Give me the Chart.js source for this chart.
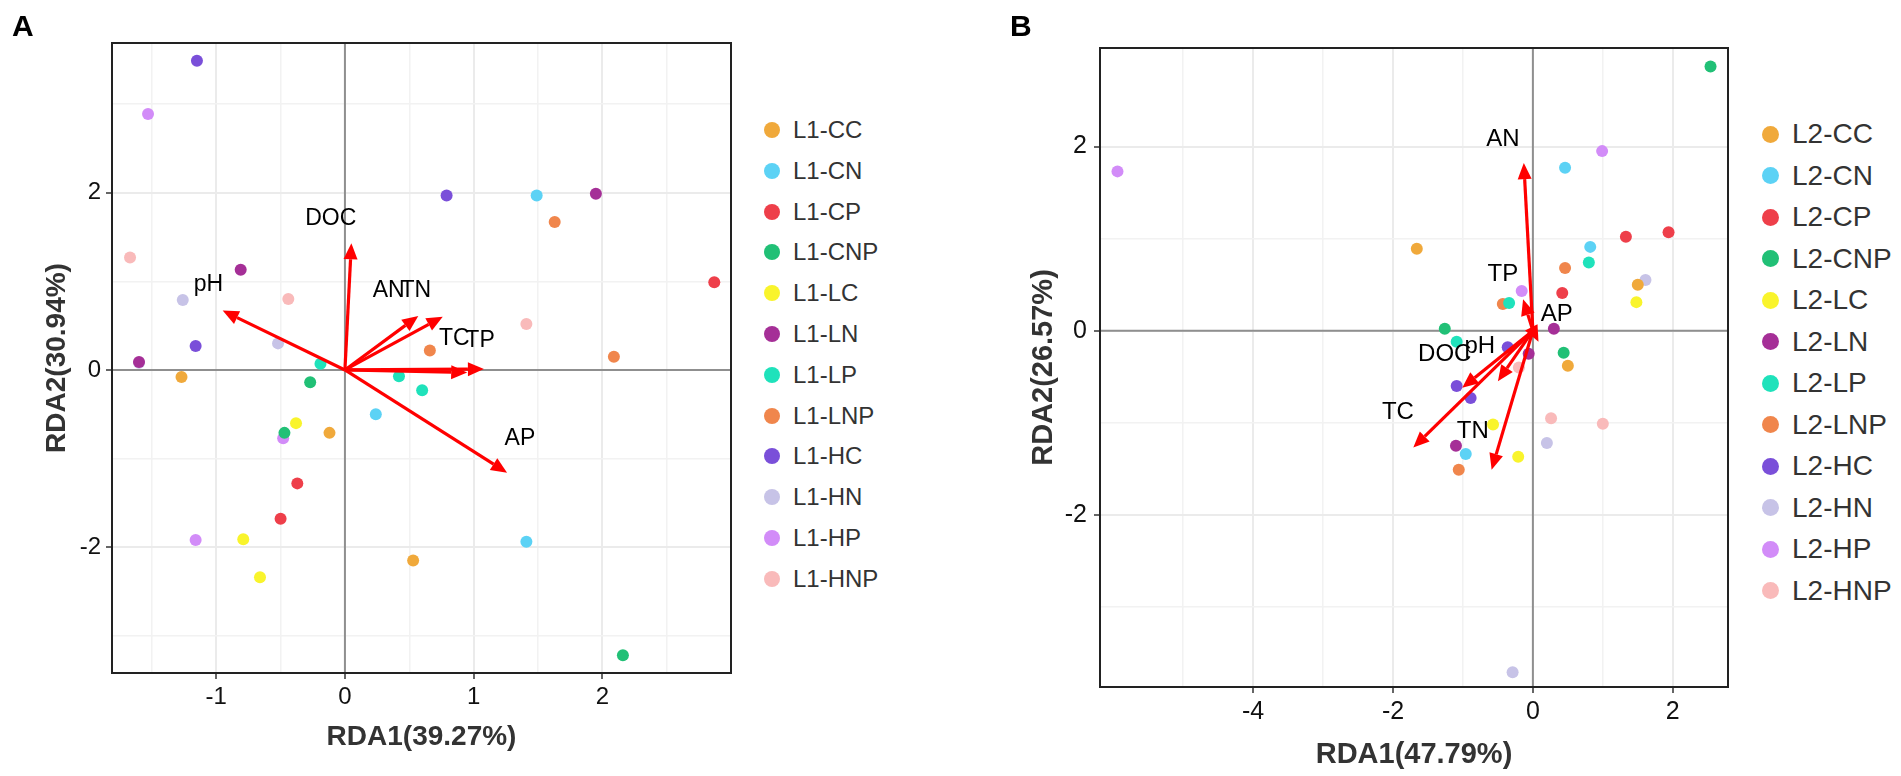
<!DOCTYPE html>
<html>
<head>
<meta charset="utf-8">
<title>RDA biplots</title>
<script src="https://cdn.jsdelivr.net/npm/chart.js@4.4.1/dist/chart.umd.min.js"></script>
<style>
  body { margin: 0; background: #fff; font-family: "Liberation Sans", Arial, sans-serif; }
  #page { position: relative; width: 1901px; height: 776px; overflow: hidden; }
  canvas { position: absolute; top: 0; }
  .tag { position: absolute; top: 11px; font-size: 30px; font-weight: bold; line-height: 30px; color: #000; }
  .leg { position: absolute; top: 0; color: #333; }
  .leg div { position: absolute; left: 0; height: 40px; display: flex; align-items: center; white-space: nowrap; }
  .leg span { display: inline-block; border-radius: 50%; flex: none; }
</style>
</head>
<body>
<div id="page">
  <canvas id="rdaA" width="745" height="776" style="left:0"></canvas>
  <canvas id="rdaB" width="750" height="776" style="left:990px"></canvas>
  <div class="tag" style="left:12px">A</div>
  <div class="tag" style="left:1010px">B</div>
  <div id="legA" class="leg"></div>
  <div id="legB" class="leg"></div>
</div>
<script>
const fam = '"Liberation Sans", Arial, sans-serif';

const groupsA = ['L1-CC', 'L1-CN', 'L1-CP', 'L1-CNP', 'L1-LC', 'L1-LN', 'L1-LP', 'L1-LNP', 'L1-HC', 'L1-HN', 'L1-HP', 'L1-HNP'];
const groupsB = ['L2-CC', 'L2-CN', 'L2-CP', 'L2-CNP', 'L2-LC', 'L2-LN', 'L2-LP', 'L2-LNP', 'L2-HC', 'L2-HN', 'L2-HP', 'L2-HNP'];
const colors = ['#F0A93B', '#5CD2F5', '#EE3F4A', '#21C076', '#F9F42C', '#A52F97',
                '#1FE2BB', '#F0864C', '#7A4FD9', '#C7C3E7', '#D28CF8', '#F9BABA'];

// panel A sample scores, one row per group (3 replicates)
const rda1A = [
  [-1.27, -0.12, 0.53], [0.24, 1.49, 1.41], [-0.37, -0.50, 2.87], [-0.27, -0.47, 2.16],
  [-0.38, -0.79, -0.66], [-0.81, -1.60, 1.95], [-0.19, 0.42, 0.60], [1.63, 0.66, 2.09],
  [-1.15, -1.16, 0.79], [-1.26, -0.52, -1.60], [-1.53, -0.48, -1.16], [-1.67, -0.44, 1.41]
];
const rda2A = [
  [-0.08, -0.71, -2.15], [-0.50, 1.97, -1.94], [-1.28, -1.68, 0.99], [-0.14, -0.71, -3.22],
  [-0.60, -1.91, -2.34], [1.13, 0.09, 1.99], [0.07, -0.07, -0.23], [1.67, 0.22, 0.15],
  [3.49, 0.27, 1.97], [0.79, 0.30, 0.08], [2.89, -0.77, -1.92], [1.27, 0.80, 0.52]
];
const envA = ['DOC', 'pH', 'AN', 'TN', 'TC', 'TP', 'AP'];
const envA1 = [0.05, -0.95, 0.57, 0.76, 0.95, 1.08, 1.26];
const envA2 = [1.43, 0.67, 0.61, 0.60, -0.03, 0.01, -1.16];
const envLabA1 = [-0.11, -1.06, 0.34, 0.55, 0.85, 1.05, 1.36];
const envLabA2 = [1.71, 0.96, 0.90, 0.90, 0.35, 0.33, -0.77];
const xTicksA = [-1.5, -1, -0.5, 0, 0.5, 1, 1.5, 2, 2.5];
const xLabelsA = [-1, 0, 1, 2];
const yTicksA = [-3, -2, -1, 0, 1, 2, 3];
const yLabelsA = [-2, 0, 2];

// panel B sample scores
const rda1B = [
  [-1.66, 1.50, 0.50], [0.46, 0.82, -0.96], [1.33, 1.94, 0.42], [2.54, -1.26, 0.44],
  [1.48, -0.57, -0.21], [0.30, -0.06, -1.10], [0.80, -0.34, -1.09], [0.46, -0.43, -1.06],
  [-0.36, -1.09, -0.89], [1.61, 0.20, -0.29], [-5.94, 0.99, -0.16], [-0.20, 0.26, 1.00]
];
const rda2B = [
  [0.89, 0.50, -0.38], [1.77, 0.91, -1.34], [1.02, 1.07, 0.41], [2.87, 0.02, -0.24],
  [0.31, -1.02, -1.37], [0.02, -0.25, -1.25], [0.74, 0.30, -0.12], [0.68, 0.29, -1.51],
  [-0.18, -0.60, -0.73], [0.55, -1.22, -3.71], [1.73, 1.95, 0.43], [-0.40, -0.95, -1.01]
];
const envB = ['AN', 'TP', 'AP', 'pH', 'DOC', 'TC', 'TN'];
const envB1 = [-0.13, -0.14, 0.08, -0.50, -1.01, -1.71, -0.59];
const envB2 = [1.82, 0.34, -0.12, -0.55, -0.62, -1.27, -1.51];
const envLabB1 = [-0.43, -0.43, 0.34, -0.76, -1.26, -1.93, -0.86];
const envLabB2 = [2.08, 0.61, 0.18, -0.17, -0.26, -0.89, -1.09];
const xTicksB = [-5, -4, -3, -2, -1, 0, 1, 2];
const xLabelsB = [-4, -2, 0, 2];
const yTicksB = [-3, -2, -1, 0, 1, 2];
const yLabelsB = [-2, 0, 2];

function tickVal(c) { return c.tick ? c.tick.value : null; }

function linAxis(o) {
  return {
    type: 'linear', min: o.min, max: o.max,
    afterBuildTicks: s => { s.ticks = o.ticks.map(v => ({ value: v })); },
    afterFit: s => { if (o.horizontal) s.height = o.size; else s.width = o.size; },
    ticks: {
      autoSkip: false, maxRotation: 0, padding: o.tickPad, color: '#111',
      font: { family: fam, size: o.tickFont },
      callback: v => o.labels.includes(v) ? String(v) : ''
    },
    grid: {
      color: c => o.labels.includes(tickVal(c)) ? '#ebebeb' : '#f2f2f2',
      lineWidth: c => o.labels.includes(tickVal(c)) ? 2 : 1.5,
      tickLength: 6,
      tickWidth: 1.5,
      tickColor: c => o.labels.includes(tickVal(c)) ? '#333' : 'rgba(0,0,0,0)'
    },
    border: { display: false },
    title: {
      display: true, text: o.title, color: '#333',
      font: { family: fam, size: o.titleFont, weight: 'bold' },
      padding: o.titlePad
    }
  };
}

function biplotPlugin(p) {
  return {
    id: 'biplot',
    beforeDatasetsDraw(chart) {
      const { ctx, chartArea: a, scales: { x, y } } = chart;
      ctx.save();
      ctx.strokeStyle = '#8f8f8f';
      ctx.lineWidth = 2;
      ctx.beginPath();
      ctx.moveTo(a.left, y.getPixelForValue(0)); ctx.lineTo(a.right, y.getPixelForValue(0));
      ctx.moveTo(x.getPixelForValue(0), a.top); ctx.lineTo(x.getPixelForValue(0), a.bottom);
      ctx.stroke();
      ctx.restore();
    },
    afterDatasetsDraw(chart) {
      const { ctx, scales: { x, y } } = chart;
      const x0 = x.getPixelForValue(0), y0 = y.getPixelForValue(0);
      const head = 16, half = 7;
      ctx.save();
      ctx.strokeStyle = ctx.fillStyle = '#ff0000';
      ctx.lineWidth = 3.2;
      p.tip1.forEach((v, i) => {
        const x1 = x.getPixelForValue(v), y1 = y.getPixelForValue(p.tip2[i]);
        const ang = Math.atan2(y1 - y0, x1 - x0);
        const bx = x1 - head * Math.cos(ang), by = y1 - head * Math.sin(ang);
        ctx.beginPath(); ctx.moveTo(x0, y0); ctx.lineTo(bx, by); ctx.stroke();
        ctx.beginPath();
        ctx.moveTo(x1, y1);
        ctx.lineTo(bx + half * Math.sin(ang), by - half * Math.cos(ang));
        ctx.lineTo(bx - half * Math.sin(ang), by + half * Math.cos(ang));
        ctx.closePath(); ctx.fill();
      });
      ctx.fillStyle = '#000';
      ctx.font = p.font + 'px ' + fam;
      ctx.textAlign = 'center';
      ctx.textBaseline = 'middle';
      p.names.forEach((n, i) => {
        ctx.fillText(n, x.getPixelForValue(p.lab1[i]), y.getPixelForValue(p.lab2[i]));
      });
      ctx.restore();
    },
    afterDraw(chart) {
      const { ctx, chartArea: a } = chart;
      ctx.save();
      ctx.strokeStyle = '#222';
      ctx.lineWidth = 2;
      ctx.strokeRect(a.left, a.top, a.right - a.left, a.bottom - a.top);
      ctx.restore();
    }
  };
}

function rdaChart(id, p) {
  const datasets = p.groups.map((g, i) => ({
    label: g,
    data: p.xs[i].map((v, j) => ({ x: v, y: p.ys[i][j] })),
    backgroundColor: colors[i],
    borderWidth: 0,
    pointRadius: 6
  }));
  return new Chart(document.getElementById(id), {
    type: 'scatter',
    data: { datasets: datasets },
    options: {
      responsive: false, animation: false, events: [],
      layout: { padding: p.pad },
      plugins: { legend: { display: false }, tooltip: { enabled: false } },
      scales: { x: p.x, y: p.y }
    },
    plugins: [biplotPlugin(p.env)]
  });
}

rdaChart('rdaA', {
  groups: groupsA, xs: rda1A, ys: rda2A,
  pad: { left: 0, top: 43, right: 14, bottom: 13 },
  x: linAxis({ min: -1.81, max: 3.0, ticks: xTicksA, labels: xLabelsA, horizontal: true, size: 90,
               tickPad: 4, tickFont: 24, title: 'RDA1(39.27%)', titleFont: 28, titlePad: { top: 0, bottom: 9 } }),
  y: linAxis({ min: -3.42, max: 3.69, ticks: yTicksA, labels: yLabelsA, horizontal: false, size: 112,
               tickPad: 5, tickFont: 24, title: 'RDA2(30.94%)', titleFont: 28, titlePad: { top: 40, bottom: 0 } }),
  env: { names: envA, tip1: envA1, tip2: envA2, lab1: envLabA1, lab2: envLabA2, font: 23 }
});

rdaChart('rdaB', {
  groups: groupsB, xs: rda1B, ys: rda2B,
  pad: { left: 0, top: 48, right: 12, bottom: 3 },
  x: linAxis({ min: -6.19, max: 2.79, ticks: xTicksB, labels: xLabelsB, horizontal: true, size: 86,
               tickPad: 4, tickFont: 25, title: 'RDA1(47.79%)', titleFont: 29, titlePad: { top: 0, bottom: 1 } }),
  y: linAxis({ min: -3.87, max: 3.07, ticks: yTicksB, labels: yLabelsB, horizontal: false, size: 110,
               tickPad: 7, tickFont: 25, title: 'RDA2(26.57%)', titleFont: 29, titlePad: { top: 37, bottom: 0 } }),
  env: { names: envB, tip1: envB1, tip2: envB2, lab1: envLabB1, lab2: envLabB2, font: 24 }
});

function drawLegend(id, names, o) {
  const box = document.getElementById(id);
  box.style.left = o.left + 'px';
  names.forEach((n, i) => {
    const row = document.createElement('div');
    row.style.top = (o.top + i * o.step - 20) + 'px';
    row.style.fontSize = o.font + 'px';
    const dot = document.createElement('span');
    dot.style.width = dot.style.height = o.dot + 'px';
    dot.style.background = colors[i];
    dot.style.marginRight = o.gap + 'px';
    row.appendChild(dot);
    row.appendChild(document.createTextNode(n));
    box.appendChild(row);
  });
}

drawLegend('legA', groupsA, { left: 764, top: 130, step: 40.8, dot: 16, gap: 13, font: 24 });
drawLegend('legB', groupsB, { left: 1761.5, top: 134, step: 41.5, dot: 17, gap: 13.5, font: 28 });
</script>
</body>
</html>
